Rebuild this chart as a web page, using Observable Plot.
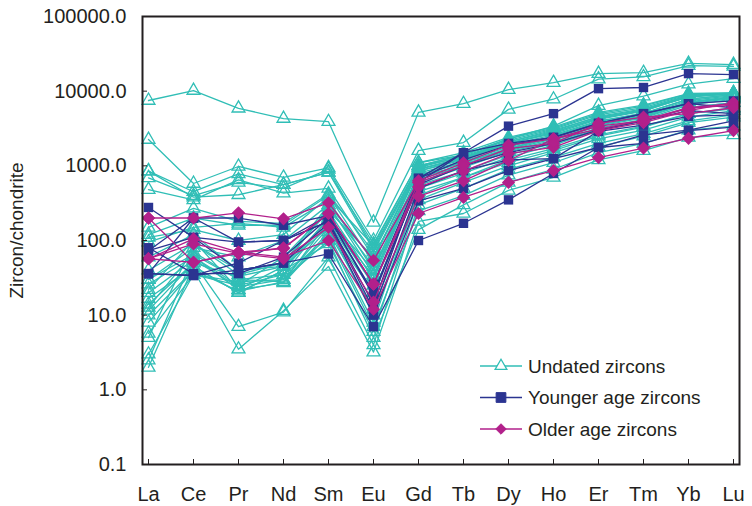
<!DOCTYPE html>
<html>
<head>
<meta charset="utf-8">
<script src="https://cdn.jsdelivr.net/npm/d3@7"></script>
<script src="https://cdn.jsdelivr.net/npm/@observablehq/plot@0.6"></script>
<style>
  html, body { margin: 0; padding: 0; background: #fff; }
  #chart { width: 752px; height: 506px; }
</style>
</head>
<body>
<div id="chart"></div>
<script>
// Rare earth elements (x categories)
const elements = ["La","Ce","Pr","Nd","Sm","Eu","Gd","Tb","Dy","Ho","Er","Tm","Yb","Lu"];

// y-axis tick values
const yTicks = [0.1, 1, 10, 100, 1000, 10000, 100000];

// Axis title and series names (legend)
const yTitle = "Zircon/chondrite";
const seriesNames = ["Undated zircons", "Younger age zircons", "Older age zircons"];

// Undated zircons (chondrite-normalised), one array per analysis, La..Lu
const undated = [
  [7500, 10200, 5900, 4300, 3900, 175, 5200, 6800, 10500, 13000, 17200, 17700, 23500, 22700],
  [2250, 580, 980, 700, 940, 100, 1600, 2050, 5700, 7800, 14500, 15500, 22000, 21500],
  [850, 450, 780, 560, 820, 90, 1100, 1400, 2300, 3400, 6400, 8600, 12400, 14700],
  [690, 400, 600, 500, 900, 80, 1000, 1300, 2100, 3000, 4500, 5600, 8800, 9300],
  [480, 350, 650, 430, 500, 60, 900, 1250, 2000, 2700, 4200, 5400, 8500, 9200],
  [850, 380, 410, 560, 820, 75, 1000, 1400, 2200, 3100, 4800, 6000, 9000, 9400],
  [150, 270, 180, 170, 420, 70, 950, 1350, 2100, 2900, 4600, 5800, 8700, 9300],
  [120, 200, 160, 160, 400, 50, 850, 1200, 1900, 2600, 4000, 5000, 7800, 9000],
  [95, 150, 170, 150, 350, 40, 900, 1300, 2000, 2800, 4300, 5500, 8300, 9200],
  [30, 80, 60, 100, 300, 35, 800, 1150, 1800, 2500, 3800, 4800, 7500, 8700],
  [26, 60, 25, 60, 250, 30, 750, 1100, 1700, 2400, 3600, 4600, 7200, 8500],
  [22, 100, 22, 45, 280, 45, 700, 1050, 1650, 2300, 3500, 4500, 7000, 8200],
  [16.7, 45, 20, 40, 200, 25, 650, 1000, 1600, 2200, 3400, 4400, 6800, 8000],
  [12.7, 70, 30, 28, 180, 20, 600, 950, 1550, 2100, 3200, 4200, 6500, 7800],
  [11.6, 50, 7, 11, 60, 4, 300, 500, 900, 1300, 2000, 2700, 4000, 4800],
  [8, 40, 3.5, 11.5, 45, 3.2, 180, 230, 470, 700, 1200, 1600, 2400, 2600],
  [5.7, 35, 28, 30, 100, 5, 140, 300, 600, 900, 1500, 2000, 3000, 3400],
  [5, 90, 40, 45, 150, 10, 400, 700, 1200, 1700, 2600, 3400, 5000, 6000],
  [2.5, 60, 22, 27, 120, 8, 500, 800, 1300, 1900, 3000, 4000, 6000, 7000],
  [2.0, 45, 20, 40, 90, 6, 350, 600, 1000, 1500, 2300, 3000, 4500, 5500],
  [60, 120, 40, 50, 300, 55, 1000, 1400, 2300, 3200, 5000, 6300, 9200, 9400],
  [40, 90, 35, 50, 250, 60, 850, 1250, 2000, 2800, 4400, 5600, 8400, 9400],
  [30, 65, 30, 35, 200, 40, 700, 1000, 1700, 2500, 3900, 5100, 7800, 9000],
  [20, 55, 24, 30, 150, 20, 550, 850, 1400, 2000, 3100, 4000, 6000, 7000],
  [10, 40, 21, 28, 130, 12, 450, 700, 1100, 1600, 2500, 3300, 5000, 5800],
  [14, 50, 33, 45, 190, 33, 750, 1100, 1700, 2400, 3700, 4700, 7100, 8300],
  [3, 35, 25, 35, 110, 7, 250, 400, 750, 1100, 1800, 2500, 3800, 4500],
  [110, 140, 100, 120, 380, 85, 1100, 1500, 2400, 3300, 5200, 6500, 9300, 9500]
];

// Younger age zircons, La..Lu
const younger = [
  [277, 110, 95, 100, 215, 18, 600, 1500, 3400, 5000, 10800, 11200, 17200, 16700],
  [73, 200, 200, 160, 215, 26, 680, 1500, 2000, 2400, 3700, 5000, 6800, 7400],
  [36, 34, 40, 50, 66, 7, 100, 170, 350, 790, 1760, 2000, 2970, 3300],
  [36, 34, 50, 100, 180, 12, 500, 860, 1200, 1250, 1760, 2600, 3000, 4000],
  [73, 110, 40, 50, 170, 10, 340, 500, 865, 1250, 2900, 3500, 4600, 4800],
  [36, 200, 95, 100, 180, 14, 680, 1200, 1900, 2400, 3700, 5000, 6800, 6000],
  [80, 36, 36, 60, 200, 20, 560, 1000, 1500, 2000, 3000, 4000, 5500, 5000]
];

// Older age zircons, La..Lu
const older = [
  [200, 200, 235, 195, 320, 54, 630, 1100, 1900, 2300, 3400, 4000, 5900, 6500],
  [57, 105, 70, 78, 230, 26, 520, 850, 1460, 1770, 2970, 3800, 5500, 7000],
  [57, 90, 67, 57, 150, 15, 390, 630, 1180, 2300, 3100, 4100, 6000, 6800],
  [57, 51, 70, 60, 100, 12, 230, 377, 600, 865, 1290, 1730, 2340, 2970],
  [200, 51, 67, 80, 230, 26, 600, 1000, 1700, 2000, 3700, 4500, 5000, 6000]
];

const teal = "#30beb6";
const blue = "#2b3491";
const magenta = "#b2208b";
const ink = "#231f20";
const font = "'Liberation Sans', Arial, Helvetica, sans-serif";

function toRows(series, group) {
  return series.flatMap((vals, i) => vals.map((v, j) => ({group, id: group + i, el: elements[j], v})));
}
const undatedRows = toRows(undated, "U");
const youngerRows = toRows(younger, "Y");
const olderRows = toRows(older, "O");

const chart = Plot.plot({
  width: 752,
  height: 506,
  marginLeft: 142,
  marginRight: 13,
  marginTop: 16,
  marginBottom: 42,
  style: {fontFamily: font, fontSize: "20px", color: ink, background: "#fff"},
  x: {type: "point", domain: elements, padding: 0, label: null},
  y: {type: "log", domain: [0.1, 100000], label: null},
  marks: [
    Plot.line(undatedRows, {x: "el", y: "v", z: "id", stroke: teal, strokeWidth: 1.3}),
    Plot.dot(undatedRows, {x: "el", y: "v", symbol: "triangle", stroke: teal, fill: "none", r: 4.8, strokeWidth: 1.3}),
    Plot.line(youngerRows, {x: "el", y: "v", z: "id", stroke: blue, strokeWidth: 1.3}),
    Plot.dot(youngerRows, {x: "el", y: "v", symbol: "square", fill: blue, r: 5.3}),
    Plot.line(olderRows, {x: "el", y: "v", z: "id", stroke: magenta, strokeWidth: 1.3}),
    Plot.dot(olderRows, {x: "el", y: "v", symbol: "diamond2", fill: magenta, stroke: magenta, r: 5}),
    Plot.frame({stroke: ink, strokeWidth: 2}),
    Plot.axisX({tickSize: -5, tickPadding: 27, fontSize: 20, stroke: ink}),
    Plot.axisY({ticks: yTicks, tickFormat: d3.format(".1f"), tickSize: -5, tickPadding: 21, fontSize: 20, stroke: ink, label: null}),
    Plot.text([yTitle], {frameAnchor: "left", text: d => d, rotate: -90, textAnchor: "middle", dx: -126, dy: -10, fontSize: 19, fill: ink})
  ]
});

document.getElementById("chart").appendChild(chart);

// Legend inside plot area (lower right)
const svg = d3.select(chart);
const legendColors = [teal, blue, magenta];
const legendSymbols = [d3.symbolTriangle, d3.symbolSquare, d3.symbolDiamond2];
const lg = svg.append("g").attr("class", "legend")
  .attr("font-family", font).attr("font-size", 19).attr("fill", ink).attr("text-anchor", "start");
seriesNames.forEach((name, i) => {
  const y = 366 + i * 31.5;
  const g = lg.append("g").attr("transform", `translate(0,${y})`);
  g.append("line").attr("x1", 480).attr("x2", 522).attr("y1", 0).attr("y2", 0)
    .attr("stroke", legendColors[i]).attr("stroke-width", 1.3);
  const sym = d3.symbol().type(legendSymbols[i]).size(i === 0 ? 60 : i === 1 ? 95 : 70);
  const p = g.append("path").attr("d", sym()).attr("transform", "translate(501,0)");
  if (i === 0) p.attr("fill", "#fff").attr("stroke", teal).attr("stroke-width", 1.3);
  else p.attr("fill", legendColors[i]).attr("stroke", legendColors[i]);
  g.append("text").attr("x", 528).attr("y", 0).attr("dy", "0.35em").attr("text-anchor", "start").text(name);
});
</script>
</body>
</html>
